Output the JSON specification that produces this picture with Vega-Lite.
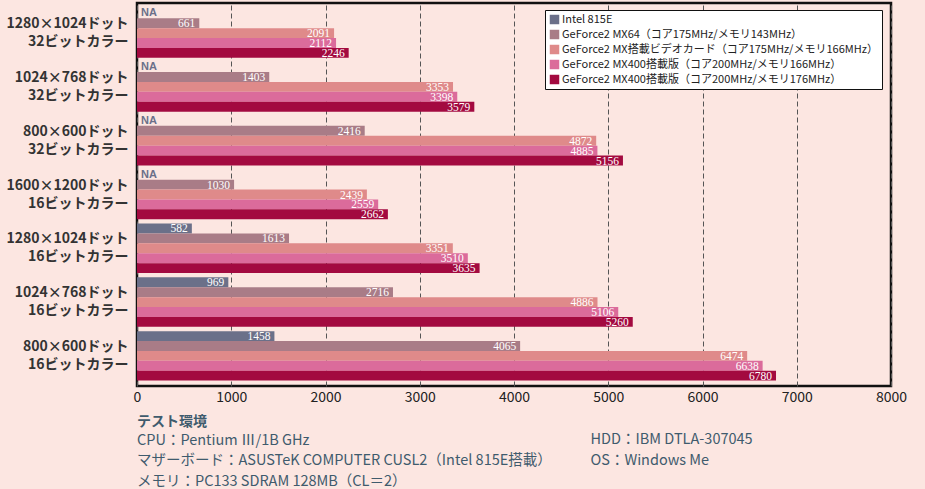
{
  "$schema": "https://vega.github.io/schema/vega-lite/v6.json",
  "autosize": {"type": "none"},
  "width": 754,
  "height": 383,
  "padding": {"left": 137, "top": 3, "right": 34, "bottom": 103},
  "background": "#fce6e1",
  "config": {
    "font": "Noto Sans CJK JP",
    "view": {"stroke": "#111111", "strokeWidth": 2.5},
    "axis": {"labelFont": "Noto Sans CJK JP", "titleFont": "Noto Sans CJK JP"}
  },
  "title": {
    "text": "テスト環境",
    "subtitle": ["CPU：Pentium Ⅲ/1B GHz", "マザーボード：ASUSTeK COMPUTER CUSL2（Intel 815E搭載）", "メモリ：PC133 SDRAM 128MB（CL＝2）"],
    "orient": "bottom",
    "anchor": "start",
    "frame": "group",
    "fontSize": 14,
    "fontWeight": "bold",
    "color": "#3f5b6d",
    "subtitleFontSize": 14.5,
    "subtitleFontWeight": "normal",
    "subtitleColor": "#3f5b6d",
    "subtitleLineHeight": 20.5,
    "subtitlePadding": 5,
    "offset": 10,
    "dy": -62
  },
  "data": {
    "values": [
      {"res": "1280×1024ドット\n32ビットカラー", "gpu": "Intel 815E", "value": null},
      {"res": "1280×1024ドット\n32ビットカラー", "gpu": "GeForce2 MX64（コア175MHz/メモリ143MHz）", "value": 661},
      {"res": "1280×1024ドット\n32ビットカラー", "gpu": "GeForce2 MX搭載ビデオカード（コア175MHz/メモリ166MHz）", "value": 2091},
      {"res": "1280×1024ドット\n32ビットカラー", "gpu": "GeForce2 MX400搭載版（コア200MHz/メモリ166MHz）", "value": 2112},
      {"res": "1280×1024ドット\n32ビットカラー", "gpu": "GeForce2 MX400搭載版（コア200MHz/メモリ176MHz）", "value": 2246},
      {"res": "1024×768ドット\n32ビットカラー", "gpu": "Intel 815E", "value": null},
      {"res": "1024×768ドット\n32ビットカラー", "gpu": "GeForce2 MX64（コア175MHz/メモリ143MHz）", "value": 1403},
      {"res": "1024×768ドット\n32ビットカラー", "gpu": "GeForce2 MX搭載ビデオカード（コア175MHz/メモリ166MHz）", "value": 3353},
      {"res": "1024×768ドット\n32ビットカラー", "gpu": "GeForce2 MX400搭載版（コア200MHz/メモリ166MHz）", "value": 3398},
      {"res": "1024×768ドット\n32ビットカラー", "gpu": "GeForce2 MX400搭載版（コア200MHz/メモリ176MHz）", "value": 3579},
      {"res": "800×600ドット\n32ビットカラー", "gpu": "Intel 815E", "value": null},
      {"res": "800×600ドット\n32ビットカラー", "gpu": "GeForce2 MX64（コア175MHz/メモリ143MHz）", "value": 2416},
      {"res": "800×600ドット\n32ビットカラー", "gpu": "GeForce2 MX搭載ビデオカード（コア175MHz/メモリ166MHz）", "value": 4872},
      {"res": "800×600ドット\n32ビットカラー", "gpu": "GeForce2 MX400搭載版（コア200MHz/メモリ166MHz）", "value": 4885},
      {"res": "800×600ドット\n32ビットカラー", "gpu": "GeForce2 MX400搭載版（コア200MHz/メモリ176MHz）", "value": 5156},
      {"res": "1600×1200ドット\n16ビットカラー", "gpu": "Intel 815E", "value": null},
      {"res": "1600×1200ドット\n16ビットカラー", "gpu": "GeForce2 MX64（コア175MHz/メモリ143MHz）", "value": 1030},
      {"res": "1600×1200ドット\n16ビットカラー", "gpu": "GeForce2 MX搭載ビデオカード（コア175MHz/メモリ166MHz）", "value": 2439},
      {"res": "1600×1200ドット\n16ビットカラー", "gpu": "GeForce2 MX400搭載版（コア200MHz/メモリ166MHz）", "value": 2559},
      {"res": "1600×1200ドット\n16ビットカラー", "gpu": "GeForce2 MX400搭載版（コア200MHz/メモリ176MHz）", "value": 2662},
      {"res": "1280×1024ドット\n16ビットカラー", "gpu": "Intel 815E", "value": 582},
      {"res": "1280×1024ドット\n16ビットカラー", "gpu": "GeForce2 MX64（コア175MHz/メモリ143MHz）", "value": 1613},
      {"res": "1280×1024ドット\n16ビットカラー", "gpu": "GeForce2 MX搭載ビデオカード（コア175MHz/メモリ166MHz）", "value": 3351},
      {"res": "1280×1024ドット\n16ビットカラー", "gpu": "GeForce2 MX400搭載版（コア200MHz/メモリ166MHz）", "value": 3510},
      {"res": "1280×1024ドット\n16ビットカラー", "gpu": "GeForce2 MX400搭載版（コア200MHz/メモリ176MHz）", "value": 3635},
      {"res": "1024×768ドット\n16ビットカラー", "gpu": "Intel 815E", "value": 969},
      {"res": "1024×768ドット\n16ビットカラー", "gpu": "GeForce2 MX64（コア175MHz/メモリ143MHz）", "value": 2716},
      {"res": "1024×768ドット\n16ビットカラー", "gpu": "GeForce2 MX搭載ビデオカード（コア175MHz/メモリ166MHz）", "value": 4886},
      {"res": "1024×768ドット\n16ビットカラー", "gpu": "GeForce2 MX400搭載版（コア200MHz/メモリ166MHz）", "value": 5106},
      {"res": "1024×768ドット\n16ビットカラー", "gpu": "GeForce2 MX400搭載版（コア200MHz/メモリ176MHz）", "value": 5260},
      {"res": "800×600ドット\n16ビットカラー", "gpu": "Intel 815E", "value": 1458},
      {"res": "800×600ドット\n16ビットカラー", "gpu": "GeForce2 MX64（コア175MHz/メモリ143MHz）", "value": 4065},
      {"res": "800×600ドット\n16ビットカラー", "gpu": "GeForce2 MX搭載ビデオカード（コア175MHz/メモリ166MHz）", "value": 6474},
      {"res": "800×600ドット\n16ビットカラー", "gpu": "GeForce2 MX400搭載版（コア200MHz/メモリ166MHz）", "value": 6638},
      {"res": "800×600ドット\n16ビットカラー", "gpu": "GeForce2 MX400搭載版（コア200MHz/メモリ176MHz）", "value": 6780}
    ]
  },
  "encoding": {
    "y": {
      "field": "res",
      "type": "nominal",
      "sort": null,
      "scale": {"paddingInner": 0.08, "paddingOuter": 0.1},
      "axis": {
        "title": null,
        "labelExpr": "split(datum.label, '\\n')",
        "labelFontSize": 14,
        "labelFontWeight": "bold",
        "labelColor": "#333333",
        "labelLineHeight": 18,
        "labelOffset": -9,
        "labelPadding": 9,
        "labelLimit": 200,
        "ticks": false,
        "domain": false
      }
    },
    "yOffset": {
      "field": "gpu",
      "type": "nominal",
      "sort": ["Intel 815E", "GeForce2 MX64（コア175MHz/メモリ143MHz）", "GeForce2 MX搭載ビデオカード（コア175MHz/メモリ166MHz）", "GeForce2 MX400搭載版（コア200MHz/メモリ166MHz）", "GeForce2 MX400搭載版（コア200MHz/メモリ176MHz）"],
      "scale": {"paddingInner": 0, "paddingOuter": 0}
    }
  },
  "layer": [
    {
      "mark": {"type": "bar"},
      "encoding": {
        "x": {
          "field": "value",
          "type": "quantitative",
          "scale": {"domain": [0, 8000], "nice": false},
          "axis": {
            "values": [0, 1000, 2000, 3000, 4000, 5000, 6000, 7000, 8000],
            "grid": true,
            "gridColor": "#555555",
            "gridDash": [5, 3],
            "gridWidth": 1,
            "ticks": false,
            "domain": false,
            "labelFlush": false,
            "labelFontSize": 14,
            "labelColor": "#222222",
            "labelPadding": 4,
            "format": "d",
            "title": ["HDD：IBM DTLA-307045", "OS：Windows Me"],
            "titleX": 453,
            "titleY": 46,
            "titleAlign": "left",
            "titleAnchor": "start",
            "titleBaseline": "top",
            "titleFontSize": 14.5,
            "titleFontWeight": "normal",
            "titleColor": "#3f5b6d",
            "titleLineHeight": 21
          }
        },
        "color": {
          "field": "gpu",
          "type": "nominal",
          "scale": {
            "domain": ["Intel 815E", "GeForce2 MX64（コア175MHz/メモリ143MHz）", "GeForce2 MX搭載ビデオカード（コア175MHz/メモリ166MHz）", "GeForce2 MX400搭載版（コア200MHz/メモリ166MHz）", "GeForce2 MX400搭載版（コア200MHz/メモリ176MHz）"],
            "range": ["#6b7089", "#a97c87", "#df8a8a", "#db6b9b", "#a30a40"]
          },
          "legend": {
            "title": null,
            "orient": "none",
            "legendX": 408,
            "legendY": 7,
            "fillColor": "#ffffff",
            "strokeColor": "#111111",
            "padding": 4,
            "symbolType": "square",
            "symbolSize": 90,
            "symbolStrokeWidth": 0,
            "labelFontSize": 11,
            "labelColor": "#222222",
            "labelLimit": 400,
            "labelOffset": 2,
            "rowPadding": 3
          }
        }
      }
    },
    {
      "transform": [{"filter": "isValid(datum.value)"}],
      "mark": {"type": "text", "align": "right", "baseline": "middle", "dx": -4, "dy": 1, "color": "#ffffff", "fontSize": 11.5, "font": "Liberation Sans Narrow"},
      "encoding": {
        "x": {"field": "value", "type": "quantitative"},
        "text": {"field": "value", "type": "quantitative", "format": "d"}
      }
    },
    {
      "transform": [{"filter": "!isValid(datum.value)"}],
      "mark": {"type": "text", "align": "left", "baseline": "middle", "dx": 4, "color": "#6b7089", "fontSize": 11, "fontWeight": "bold", "font": "Liberation Sans"},
      "encoding": {
        "x": {"datum": 0, "type": "quantitative"},
        "text": {"value": "NA"}
      }
    }
  ]
}
